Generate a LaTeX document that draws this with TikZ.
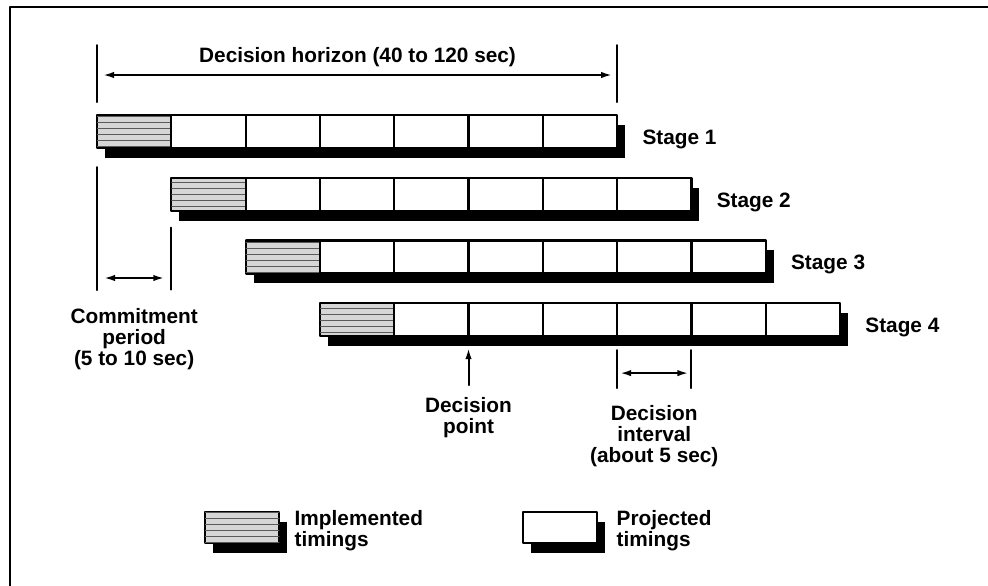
\documentclass[tikz,border=0pt]{standalone}
\usepackage{fontspec}
\setmainfont{Liberation Sans}
\usetikzlibrary{arrows.meta,patterns,positioning,shadows}
\definecolor{Ifill}{RGB}{214,214,214}
\definecolor{Idots}{RGB}{90,90,90}

\tikzset{
  shadowed/.style={drop shadow={shadow xshift=4pt,shadow yshift=-5pt,fill=black,opacity=1}},
  cell/.style={draw,line width=1.1pt,fill=white,minimum width=37.15pt,minimum height=16.5pt,inner sep=0pt,outer sep=0pt,shadowed},
  impl/.style={cell,fill=Ifill,postaction={pattern=horizontal lines,pattern color=Idots}},
  tick/.style={line width=1pt},
  dim/.style={line width=1pt,{Latex[length=5.5pt,width=3.2pt]}-{Latex[length=5.5pt,width=3.2pt]}},
  ptr/.style={line width=1pt,-{Latex[length=5.5pt,width=3.2pt]}},
  lbl/.style={font=\bfseries\fontsize{10.4}{10.5}\selectfont,align=center,inner sep=0pt},
}

\begin{document}
\begin{tikzpicture}[x=0.5pt,y=-0.5pt,line cap=round,line join=round]
\useasboundingbox (0,0) rectangle (988,585);
\clip (0,0) rectangle (988,585);
\draw[line width=1pt] (10,7) rectangle (1000,600);

% the four stages
\foreach \k in {1,...,4} {
  \pgfmathsetmacro\bx{97+74.3*(\k-1)}
  \pgfmathsetmacro\by{115+62.7*(\k-1)}
  \node[impl,anchor=north west] (st\k-0) at (\bx,\by) {};
  \foreach \i in {1,...,6} {
    \node[cell,anchor=north west] (st\k-\i) at (\bx+74.3*\i,\by) {};
  }
  \node[lbl,anchor=west,xshift=12.5pt,yshift=-4pt] (lab\k) at (st\k-6.east) {Stage \k};
}

% decision horizon
\draw[tick] (st1-0.north west) ++(0,-13) -- ++(0,-57);
\draw[tick] (st1-6.north east) ++(0,-13) -- ++(0,-57);
\draw[dim] ([shift={(6,-40)}]st1-0.north west) coordinate (hzL) -- ([shift={(-5,-40)}]st1-6.north east) coordinate (hzR);
\path (hzL) -- (hzR) node[midway,lbl,yshift=9pt] (hztxt) {Decision horizon (40 to 120 sec)};

% commitment period
\draw[tick] (st1-0.south west) ++(0,19) -- ++(0,123);
\draw[tick] (st2-0.south west) ++(0,17) -- ++(0,62);
\draw[dim] ([shift={(7,130)}]st1-0.south west) coordinate (cmL) -- ([shift={(-7,130)}]st1-0.south east) coordinate (cmR);
\path (cmL) -- (cmR) coordinate[midway] (cmM);
\node[lbl,below=15pt of cmM] (cmtxt) {Commitment\\period\\(5 to 10 sec)};

% decision point
\draw[ptr] ([yshift=-24.5pt]st4-1.south east) coordinate (dpB) -- ([yshift=-6pt]st4-1.south east);
\node[lbl,below=6pt of dpB] (dptxt) {Decision\\point};

% decision interval
\draw[tick] (st4-4.south west) ++(0,14) -- ++(0,38);
\draw[tick] (st4-4.south east) ++(0,14) -- ++(0,38);
\draw[dim] ([shift={(3,37)}]st4-4.south west) coordinate (diL) -- ([shift={(-3,37)}]st4-4.south east) coordinate (diR);
\path (diL) -- (diR) coordinate[midway] (diM);
\node[lbl,below=16pt of diM] (ditxt) {Decision\\interval\\(about 5 sec)};

% legend
\node[impl,anchor=north west,minimum height=15.5pt] (keyI) at (205,512) {};
\node[lbl,align=left,anchor=west,xshift=7.5pt,yshift=-1.5pt] (keyItxt) at (keyI.east) {Implemented\\timings};
\node[cell,anchor=north west,minimum height=15.5pt] (keyP) at (523,512) {};
\node[lbl,align=left,anchor=west,xshift=9.5pt,yshift=-1.5pt] (keyPtxt) at (keyP.east) {Projected\\timings};
\end{tikzpicture}
\end{document}
